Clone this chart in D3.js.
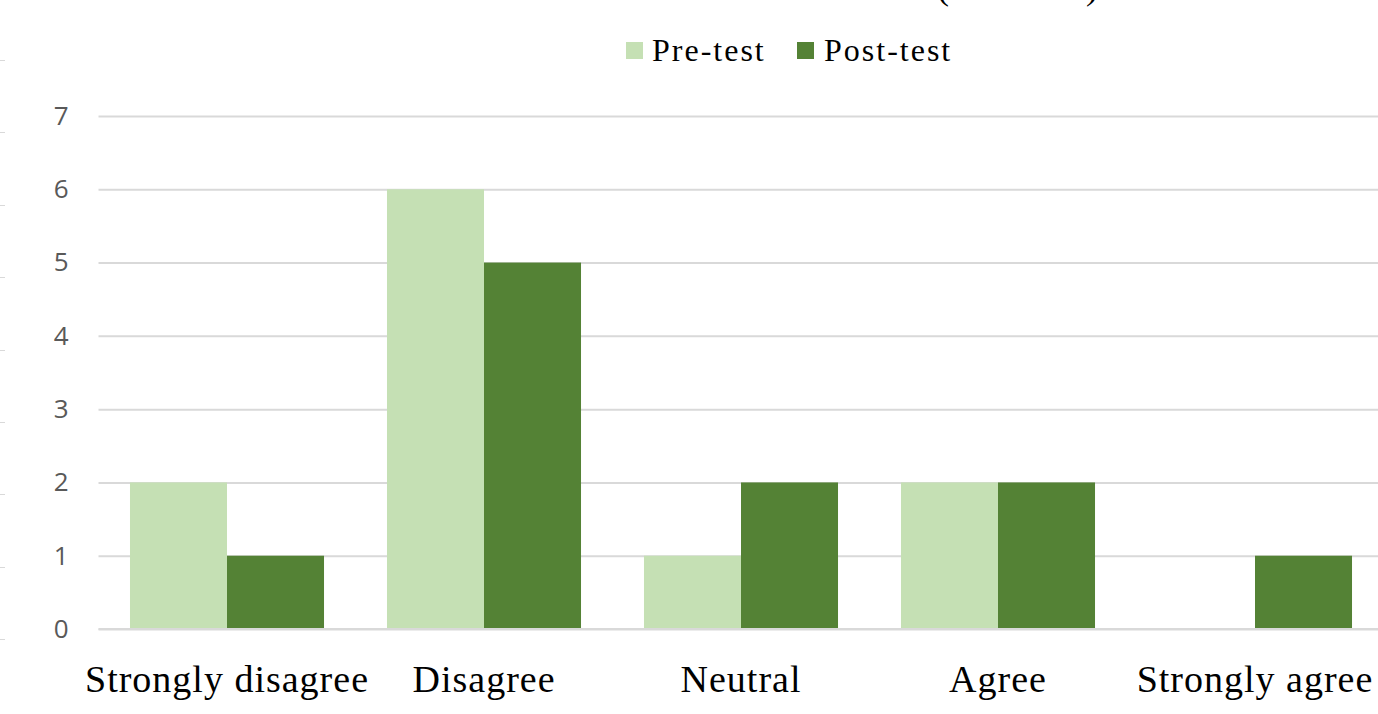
<!DOCTYPE html>
<html>
<head>
<meta charset="utf-8">
<script src="https://cdn.jsdelivr.net/npm/d3@7"></script>
<style>
  html, body { margin: 0; padding: 0; background: #fff; }
  svg { display: block; }
</style>
</head>
<body>
<svg id="chart" width="1378" height="714"></svg>
<script>
// Survey responses, pre-test vs post-test
const categories = ["Strongly disagree", "Disagree", "Neutral", "Agree", "Strongly agree"];
const seriesNames = ["Pre-test", "Post-test"];
const preTest = [2, 6, 1, 2, 0];
const postTest = [1, 5, 2, 2, 1];
const yTicks = [0, 1, 2, 3, 4, 5, 6, 7];
const colors = ["#C5E0B4", "#548235"];

const svg = d3.select("#chart");
const W = 1378, H = 714;

const plot = { left: 98.5, right: 1383.5, top: 116, bottom: 629 };

const x0 = d3.scaleBand()
  .domain(categories)
  .range([plot.left, plot.right])
  .paddingInner(0.245)
  .paddingOuter(0.1225);

const x1 = d3.scaleBand()
  .domain(seriesNames)
  .range([0, x0.bandwidth()]);

const y = d3.scaleLinear()
  .domain([0, 7])
  .range([plot.bottom, plot.top]);

const color = d3.scaleOrdinal().domain(seriesNames).range(colors);

// faint tick marks along the left edge
const edge = d3.scaleLinear().domain([0, 8]).range([60, 639]);
svg.append("g")
  .selectAll("line")
  .data(d3.range(0, 9))
  .join("line")
  .attr("x1", 0).attr("x2", 5)
  .attr("y1", d => Math.round(edge(d)) + 0.5)
  .attr("y2", d => Math.round(edge(d)) + 0.5)
  .attr("stroke", "#d9d9d9")
  .attr("stroke-width", 1);

// title line (mostly above the canvas)
const titleG = svg.append("g")
  .attr("font-family", "'Liberation Serif', serif")
  .attr("font-size", 36)
  .attr("fill", "#000");
titleG.append("text").attr("x", 937).attr("y", -1).text("(");
titleG.append("text").attr("x", 1086).attr("y", -1).text(")");

// gridlines + y axis labels
const yAxis = d3.axisLeft(y)
  .tickValues(yTicks)
  .tickSize(-(W - plot.left))
  .tickPadding(30)
  .tickFormat(d3.format("d"));

const gy = svg.append("g")
  .attr("transform", `translate(${plot.left},0)`)
  .call(yAxis);
gy.select(".domain").remove();
gy.selectAll(".tick line")
  .attr("stroke", "#d9d9d9")
  .attr("stroke-width", 2);
gy.selectAll(".tick text")
  .attr("fill", "#595959")
  .attr("font-family", "'Open Sans', 'Noto Sans', sans-serif")
  .attr("font-size", 26);

// bars
const rows = categories.map((c, i) => ({ category: c, values: [preTest[i], postTest[i]] }));
svg.append("g")
  .selectAll("g")
  .data(rows)
  .join("g")
  .attr("transform", d => `translate(${x0(d.category)},0)`)
  .selectAll("rect")
  .data(d => d.values.map((v, j) => ({ key: seriesNames[j], value: v })))
  .join("rect")
  .attr("x", d => x1(d.key))
  .attr("width", x1.bandwidth())
  .attr("y", d => y(d.value))
  .attr("height", d => y(0) - y(d.value))
  .attr("fill", d => color(d.key));

// baseline
svg.append("line")
  .attr("x1", plot.left).attr("x2", W)
  .attr("y1", y(0)).attr("y2", y(0))
  .attr("stroke", "#d9d9d9")
  .attr("stroke-width", 2);

// category labels
const xAxis = d3.axisBottom(x0).tickSize(0).tickPadding(0);
const gx = svg.append("g")
  .attr("transform", `translate(0,${plot.bottom})`)
  .call(xAxis);
gx.select(".domain").remove();
gx.selectAll(".tick text")
  .attr("dy", 0)
  .attr("y", 63)
  .attr("fill", "#000")
  .attr("font-family", "'Liberation Serif', serif")
  .attr("font-size", 38)
  .attr("letter-spacing", 1);

// legend
const legendItems = [
  { name: seriesNames[0], sx: 626, tx: 652 },
  { name: seriesNames[1], sx: 797, tx: 824 }
];
const lg = svg.append("g");
lg.selectAll("rect")
  .data(legendItems)
  .join("rect")
  .attr("x", d => d.sx)
  .attr("y", 42)
  .attr("width", 17)
  .attr("height", 17)
  .attr("fill", d => color(d.name));
lg.selectAll("text")
  .data(legendItems)
  .join("text")
  .attr("x", d => d.tx)
  .attr("y", 61)
  .attr("fill", "#000")
  .attr("font-family", "'Liberation Serif', serif")
  .attr("font-size", 32)
  .attr("letter-spacing", 2)
  .text(d => d.name);
</script>
</body>
</html>
